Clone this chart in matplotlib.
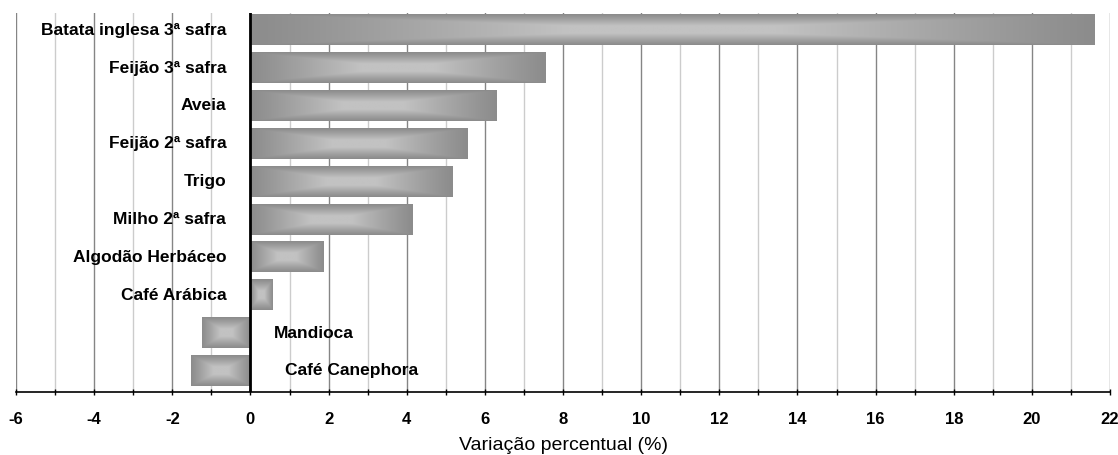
import matplotlib.pyplot as plt
import numpy as np

plt.rcParams['font.family'] = ['Liberation Sans', 'DejaVu Sans']

# culturas de baixo para cima
culturas = ["Café Canephora", "Mandioca", "Café Arábica", "Algodão Herbáceo",
            "Milho 2ª safra", "Trigo", "Feijão 2ª safra", "Aveia",
            "Feijão 3ª safra", "Batata inglesa 3ª safra"]
variacao = [-1.52, -1.24, 0.57, 1.87, 4.17, 5.17, 5.57, 6.30, 7.57, 21.62]

xticks_major = list(range(-6, 23, 2))
xticks_minor = list(range(-5, 22, 2))

fig = plt.figure(figsize=(11.18, 4.55), dpi=100)
ax = fig.add_axes([0.0143, 0.139, 0.9786, 0.833])

# grade vertical: pares mais escuros, ímpares mais claros
for x in xticks_major:
    ax.axvline(x, color="#858585", lw=1.0, zorder=0)
for x in xticks_minor:
    ax.axvline(x, color="#cccccc", lw=1.0, zorder=0)

# barras com gradiente retangular a partir do centro
n = 200
u = np.linspace(-1, 1, n)
v = np.linspace(-1, 1, 40)
U, V = np.meshgrid(u, v)
d = np.maximum(np.abs(U), np.abs(V))
light = np.clip((1 - d) / 0.75, 0, 1) ** 1.1
edge = np.array([0x8c, 0x8c, 0x8c]) / 255
center = np.array([0xc2, 0xc2, 0xc2]) / 255
img = edge + (center - edge) * light[..., None]

h = 0.8
for i, (nome, val) in enumerate(zip(culturas, variacao)):
    x0, x1 = min(0, val), max(0, val)
    ax.imshow(img, extent=[x0, x1, i - h / 2, i + h / 2], aspect="auto",
              interpolation="bilinear", zorder=2)
    if val >= 0:
        ax.text(-0.62, i, nome, ha="right", va="center", fontsize=12.5,
                fontweight="bold", zorder=3)
    else:
        # rótulos das barras negativas ficam à direita do zero
        xt = 0.6 if i == 1 else 0.88
        ax.text(xt, i, nome, ha="left", va="center", fontsize=12.5,
                fontweight="bold", zorder=3)

ax.axvline(0, color="black", lw=2, zorder=4)

ax.set_xlim(-6, 22)
ax.set_ylim(-0.55, len(culturas) - 0.54)
ax.set_xticks(xticks_major)
ax.set_xticks(xticks_minor, minor=True)
ax.set_xticklabels([str(t) for t in xticks_major], fontsize=12, fontweight="bold")
ax.tick_params(axis="x", which="both", direction="inout", length=5, width=1, pad=12)
ax.set_yticks([])
for s in ["top", "left", "right"]:
    ax.spines[s].set_visible(False)
ax.spines["bottom"].set_linewidth(1.2)
ax.set_xlabel("Variação percentual (%)", fontsize=14, labelpad=7)

fig.savefig("out.png", dpi=100)
